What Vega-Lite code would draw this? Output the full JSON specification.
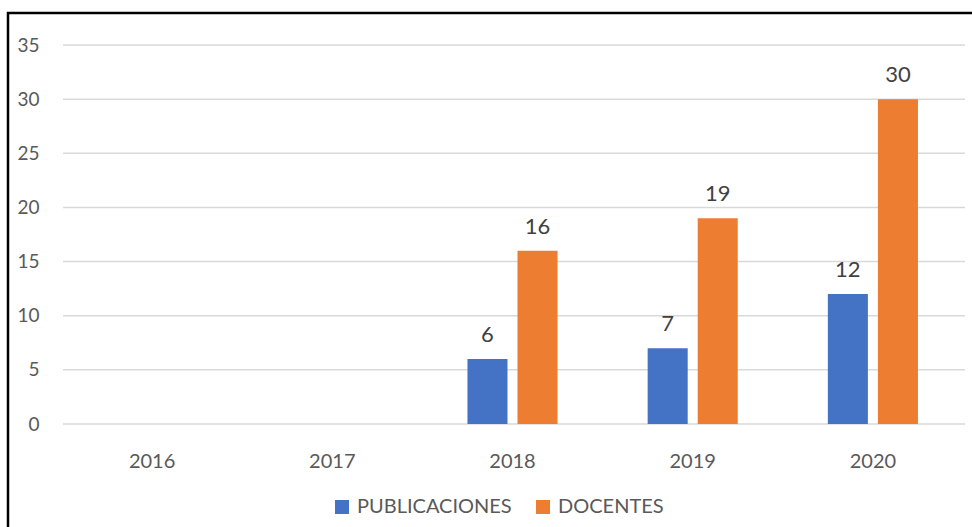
{
  "$schema": "https://vega.github.io/schema/vega-lite/v6.json",
  "width": 975,
  "height": 530,
  "autosize": "none",
  "padding": {"left": 8, "top": 13, "right": 0, "bottom": 0},
  "background": "#ffffff",
  "config": {
    "view": {"stroke": "#000000", "strokeWidth": 2.5},
    "font": "Lato"
  },
  "layer": [
    {
      "data": {"values": [{"value": 0}, {"value": 5}, {"value": 10}, {"value": 15}, {"value": 20}, {"value": 25}, {"value": 30}, {"value": 35}]},
      "mark": {"type": "rule", "color": "#d9d9d9", "strokeWidth": 1.5},
      "encoding": {
        "y": {"field": "value", "type": "quantitative",
              "scale": {"domain": [0, 35], "range": [411, 32], "nice": false, "zero": true},
              "axis": {"orient": "left", "offset": -33, "labelPadding": 2, "ticks": false, "domain": false, "grid": false, "title": null, "values": [0, 5, 10, 15, 20, 25, 30, 35], "labelFontSize": 19, "labelColor": "#595959", "labelFont": "Lato"}},
        "x": {"datum": 0, "type": "quantitative", "scale": {"domain": [0, 1], "range": [55, 957]}, "axis": null},
        "x2": {"datum": 1}
      }
    },
    {
      "data": {"values": [
        {"year": "2018", "serie": "PUBLICACIONES", "value": 6},
        {"year": "2018", "serie": "DOCENTES", "value": 16},
        {"year": "2019", "serie": "PUBLICACIONES", "value": 7},
        {"year": "2019", "serie": "DOCENTES", "value": 19},
        {"year": "2020", "serie": "PUBLICACIONES", "value": 12},
        {"year": "2020", "serie": "DOCENTES", "value": 30}
      ]},
      "encoding": {
        "x": {"field": "year", "type": "nominal",
              "scale": {"domain": ["2016", "2017", "2018", "2019", "2020"], "range": [54, 955], "paddingInner": 0.5, "paddingOuter": 0.25},
              "axis": {"orient": "bottom", "offset": -119, "labelPadding": 27, "ticks": false, "domain": false, "grid": false, "title": null, "labelAngle": 0, "labelFontSize": 20, "labelColor": "#595959", "labelFont": "Lato"}},
        "xOffset": {"field": "serie", "type": "nominal", "scale": {"domain": ["PUBLICACIONES", "DOCENTES"], "paddingInner": 0.2, "paddingOuter": 0}},
        "y": {"field": "value", "type": "quantitative",
              "scale": {"domain": [0, 35], "range": [411, 32], "nice": false, "zero": true},
              "axis": {"orient": "left", "offset": -33, "labelPadding": 2, "ticks": false, "domain": false, "grid": false, "title": null, "values": [0, 5, 10, 15, 20, 25, 30, 35], "labelFontSize": 19, "labelColor": "#595959", "labelFont": "Lato"}}
      },
      "layer": [
        {
          "mark": {"type": "bar"},
          "encoding": {
            "color": {"field": "serie", "type": "nominal",
                      "scale": {"domain": ["PUBLICACIONES", "DOCENTES"], "range": ["#4472C4", "#ED7D31"]},
                      "legend": {"orient": "none", "legendX": 324, "legendY": 484, "direction": "horizontal", "title": null, "padding": 0, "symbolType": "square", "symbolSize": 196, "symbolStrokeWidth": 0, "labelOffset": 5, "columnPadding": 21, "labelFontSize": 20, "labelColor": "#595959", "labelFont": "Lato"}}
          }
        },
        {
          "mark": {"type": "text", "baseline": "alphabetic", "dy": -17, "fontSize": 22, "color": "#404040", "font": "Lato"},
          "encoding": {"text": {"field": "value", "type": "quantitative"}}
        }
      ]
    }
  ],
  "resolve": {"scale": {"x": "independent"}, "axis": {"x": "independent"}}
}
